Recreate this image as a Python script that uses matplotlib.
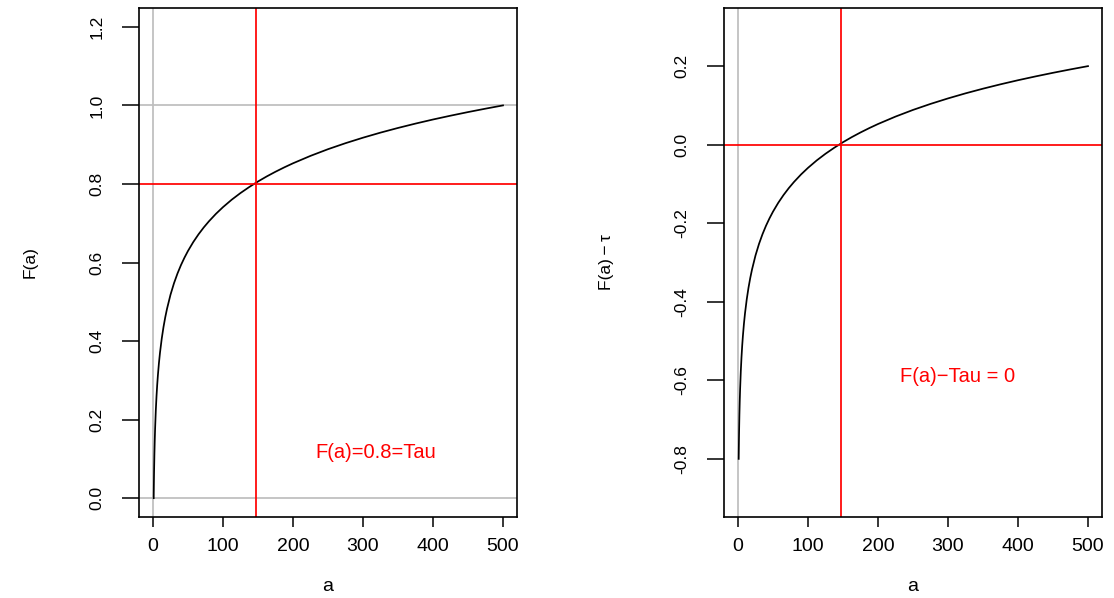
import numpy as np
import matplotlib
matplotlib.use("Agg")
import matplotlib.pyplot as plt

# values
a_vals = [1, 1.25, 1.5, 2, 2.5, 3, 4, 5, 6, 7, 8.5, 10, 12.5, 15, 17.5, 20,
          25, 30, 35, 40, 45, 50, 57.5, 65, 72.5, 80, 90, 100, 112.5, 125,
          137.5, 150, 162.5, 175, 187.5, 200, 225, 250, 275, 300, 325, 350,
          375, 400, 425, 450, 475, 500]
F_vals = [0.0, 0.0359, 0.0652, 0.1115, 0.1474, 0.1768, 0.2231, 0.2590,
          0.2883, 0.3131, 0.3444, 0.3705, 0.4064, 0.4358, 0.4606, 0.4820,
          0.5180, 0.5473, 0.5721, 0.5936, 0.6125, 0.6295, 0.6520, 0.6717,
          0.6893, 0.7051, 0.7241, 0.7410, 0.7600, 0.7769, 0.7922, 0.8063,
          0.8192, 0.8311, 0.8422, 0.8526, 0.8715, 0.8885, 0.9038, 0.9178,
          0.9307, 0.9426, 0.9537, 0.9641, 0.9738, 0.9830, 0.9917, 1.0]
tau = 0.8
a_root = 147
x_ticks = [0, 100, 200, 300, 400, 500]
left_yticks = [0.0, 0.2, 0.4, 0.6, 0.8, 1.0, 1.2]
right_yticks = [-0.8, -0.6, -0.4, -0.2, 0.0, 0.2]

plt.rcParams['font.family'] = ['Liberation Sans', 'DejaVu Sans']

GRAY = '#BEBEBE'
RED = '#FF0000'
LW = 1.25

fig = plt.figure(figsize=(11.14, 5.98), dpi=100)
W, H = 1114, 598
ax1 = fig.add_axes([139 / W, 1 - 517 / H, 378 / W, 509 / H])
ax2 = fig.add_axes([724 / W, 1 - 517 / H, 378 / W, 509 / H])


def style(ax, yticks, ylabel, ylab_x):
    ax.set_xlim(-20, 520)
    ax.set_xticks(x_ticks)
    ax.set_xticklabels([str(t) for t in x_ticks], fontsize=14)
    ax.set_yticks(yticks)
    ax.set_yticklabels([f"{t:.1f}" for t in yticks], fontsize=12.5,
                       rotation=90, va='center')
    ax.tick_params(axis='x', length=7.2, width=1.1, pad=8)
    ax.tick_params(axis='y', length=12, width=1.1, pad=13)
    for s in ax.spines.values():
        s.set_linewidth(1.2)
    ax.set_xlabel("a", fontsize=14)
    ax.xaxis.set_label_coords(0.5, -0.1375)
    ax.xaxis.label.set_va('center')
    ax.set_ylabel(ylabel, fontsize=12.5)
    ax.yaxis.set_label_coords(ylab_x, 0.5)
    ax.yaxis.label.set_va('center')


# left panel: F(a)
ax1.set_ylim(-0.048, 1.248)
ax1.axvline(0, color=GRAY, lw=LW)
ax1.axhline(0, color=GRAY, lw=LW)
ax1.axhline(1, color=GRAY, lw=LW)
ax1.plot(a_vals, F_vals, color='black', lw=LW)
ax1.axhline(tau, color=RED, lw=LW)
ax1.axvline(a_root, color=RED, lw=LW)
ax1.text(318, 0.115, "F(a)=0.8=Tau", color=RED, fontsize=14.5,
         ha='center', va='center')
style(ax1, left_yticks, "F(a)", -0.288)

# right panel: F(a) - tau
diff = [f - tau for f in F_vals]
ax2.set_ylim(-0.948, 0.348)
ax2.axvline(0, color=GRAY, lw=LW)
ax2.plot(a_vals, diff, color='black', lw=LW)
ax2.axhline(0, color=RED, lw=LW)
ax2.axvline(a_root, color=RED, lw=LW)
ax2.text(314, -0.59, "F(a)\u2212Tau = 0", color=RED, fontsize=14.5,
         ha='center', va='center')
style(ax2, right_yticks, "F(a)\u2009\u2212\u2009\u03c4", -0.31)

fig.savefig("out.png", dpi=100)
